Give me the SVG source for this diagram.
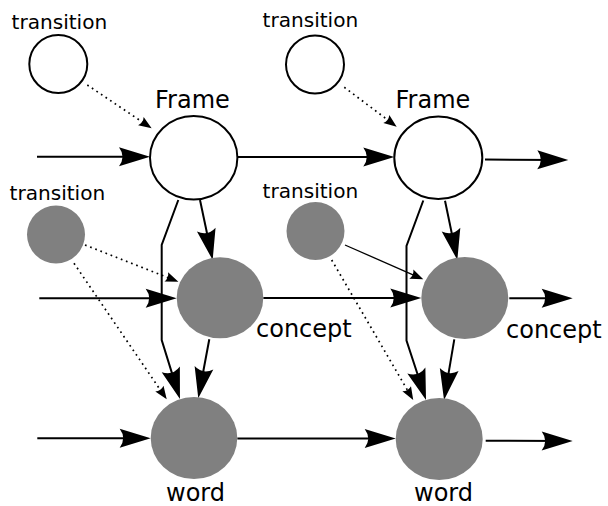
<svg xmlns="http://www.w3.org/2000/svg" width="608" height="506" viewBox="0 0 608 506">
<defs>
<style>
.open{fill:#fff;stroke:#000;stroke-width:2}
.gray{fill:#808080;stroke:none}
.big{font-family:"DejaVu Sans",sans-serif;font-size:24px;fill:#000}
.small{font-family:"DejaVu Sans",sans-serif;font-size:20.1px;fill:#000}
.solid{fill:none;stroke:#000;stroke-width:2;marker-end:url(#ah)}
.dot{fill:none;stroke:#000;stroke-width:1.7;stroke-dasharray:1.7 3.8;marker-end:url(#ahs)}
.thin{fill:none;stroke:#000;stroke-width:1.3;marker-end:url(#ahs)}
</style>
<marker id="ah" markerUnits="userSpaceOnUse" markerWidth="40" markerHeight="24" viewBox="-33 -12 35 24" refX="-10" refY="0" orient="auto" overflow="visible">
<path d="M0,0 L-31,-9.5 Q-24,0 -31,9.5 Z" fill="#000"/>
</marker>
<marker id="ahs" markerUnits="userSpaceOnUse" markerWidth="16" markerHeight="12" viewBox="-14 -6 15 12" refX="-5" refY="0" orient="auto" overflow="visible">
<path d="M0,0 L-13,-5 Q-10,0 -13,5 Z" fill="#000"/>
</marker>
</defs>

<g id="connectors">
<line class="solid" x1="37" y1="156.7" x2="140" y2="156.7"/>
<line class="solid" x1="237.5" y1="157" x2="384.3" y2="157"/>
<line class="solid" x1="485" y1="159.5" x2="558.3" y2="160"/>
<line class="solid" x1="39.3" y1="298.3" x2="166.7" y2="298.3"/>
<line class="solid" x1="263.3" y1="298" x2="411.3" y2="298"/>
<line class="solid" x1="509.3" y1="298.3" x2="562.7" y2="298.3"/>
<line class="solid" x1="37.3" y1="438.3" x2="140.7" y2="438.3"/>
<line class="solid" x1="237.3" y1="438.5" x2="385.7" y2="438.5"/>
<line class="solid" x1="485.7" y1="440.7" x2="562.7" y2="441"/>

<line class="solid" x1="200" y1="200" x2="210.6" y2="250.2"/>
<polyline class="solid" points="178.3,200 161.7,245 161.7,340 177,389.4"/>
<line class="solid" x1="209.3" y1="339.3" x2="200.1" y2="388.5"/>
<line class="solid" x1="445" y1="200.7" x2="455.3" y2="250.2"/>
<polyline class="solid" points="423.3,200.5 406.5,246 406.5,340.5 422.9,390.5"/>
<line class="solid" x1="454.3" y1="339.3" x2="445.7" y2="390.2"/>

<line class="dot" x1="87.3" y1="85" x2="147.5" y2="125.5"/>
<line class="dot" x1="344.3" y1="87.3" x2="392.7" y2="123.7"/>
<line class="dot" x1="85" y1="245" x2="173.7" y2="279.9"/>
<line class="dot" x1="74" y1="263.3" x2="163.9" y2="395.2"/>
<line class="thin" x1="345" y1="245" x2="418.7" y2="277.3"/>
<line class="dot" x1="331.7" y1="260" x2="410.7" y2="395.7"/>
</g>

<g id="transition-tl">
<circle class="open" cx="58.3" cy="64" r="29"/>
<text class="small" x="11.5" y="29">transition</text>
</g>
<g id="transition-tr">
<circle class="open" cx="315" cy="64.5" r="29"/>
<text class="small" x="262.5" y="27">transition</text>
</g>
<g id="transition-bl">
<circle class="gray" cx="56" cy="234.5" r="29"/>
<text class="small" x="9.5" y="200">transition</text>
</g>
<g id="transition-br">
<circle class="gray" cx="315.5" cy="231" r="29"/>
<text class="small" x="262.5" y="198">transition</text>
</g>
<g id="frame-1">
<ellipse class="open" cx="193.7" cy="157.7" rx="43.7" ry="41.7"/>
<text class="big" x="155" y="108">Frame</text>
</g>
<g id="frame-2">
<ellipse class="open" cx="438.3" cy="157.8" rx="44" ry="41.2"/>
<text class="big" x="395.5" y="108.3">Frame</text>
</g>
<g id="concept-1">
<ellipse class="gray" cx="220" cy="297.8" rx="43.3" ry="40.5"/>
<text class="big" x="256" y="337">concept</text>
</g>
<g id="concept-2">
<ellipse class="gray" cx="464.8" cy="298" rx="43.5" ry="41"/>
<text class="big" x="506" y="338">concept</text>
</g>
<g id="word-1">
<ellipse class="gray" cx="194" cy="438" rx="43.3" ry="41"/>
<text class="big" x="166" y="500.5">word</text>
</g>
<g id="word-2">
<ellipse class="gray" cx="439.2" cy="439" rx="43.5" ry="41"/>
<text class="big" x="414" y="500.5">word</text>
</g>
</svg>
